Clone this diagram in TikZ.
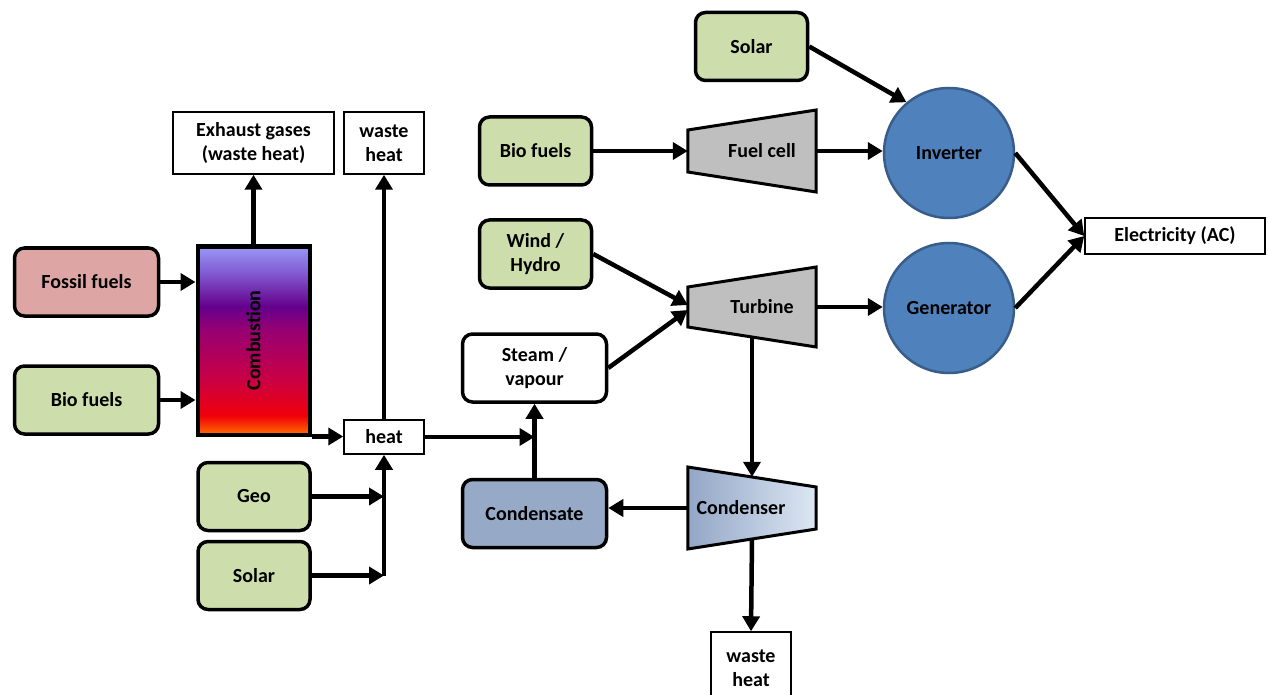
\documentclass[tikz,border=0pt]{standalone}
\usepackage{fontspec}
\setmainfont{Carlito}
\usetikzlibrary{arrows.meta}

\definecolor{renew}{RGB}{205,221,172}
\definecolor{fossil}{RGB}{221,166,164}
\definecolor{condensate}{RGB}{150,170,200}
\definecolor{coolA}{RGB}{146,166,198}
\definecolor{coolB}{RGB}{221,231,243}
\definecolor{unitgray}{RGB}{191,191,191}
\definecolor{circFill}{RGB}{79,129,189}
\definecolor{circEdge}{RGB}{56,93,138}
\definecolor{flOrange}{RGB}{255,110,0}
\definecolor{flRed}{RGB}{240,0,10}
\definecolor{flCrimson}{RGB}{200,0,70}
\definecolor{flMagenta}{RGB}{150,0,115}
\definecolor{flPurple}{RGB}{100,0,140}
\definecolor{flViolet}{RGB}{130,90,210}
\definecolor{flTop}{RGB}{152,152,245}

% burner colours, bottom to top
\pgfdeclareverticalshading{flame}{100bp}{color(0bp)=(flOrange); color(25bp)=(flOrange);
  color(30bp)=(flRed); color(40bp)=(flCrimson); color(53bp)=(flMagenta);
  color(59bp)=(flPurple); color(68bp)=(flViolet); color(75bp)=(flTop); color(100bp)=(flTop)}

\begin{document}
\begin{tikzpicture}[x=1pt,y=-1pt,font=\fontsize{20}{24}\selectfont\bfseries,
  src/.style={draw,line width=3.5pt,rounded corners=10pt,fill=renew,
    minimum width=112pt,minimum height=68pt,align=center},
  wide/.style={src,minimum width=144pt},
  tag/.style={draw,line width=1.5pt,fill=white,align=center,minimum height=62pt},
  dyn/.style={circle,draw=circEdge,line width=2.5pt,fill=circFill,minimum size=130pt},
  flow/.style={line width=4.5pt,-{Triangle[length=15pt,width=17pt]}}]
\useasboundingbox (0,0) rectangle (1269,695);

% combustion side
\node[src,wide,fill=fossil] (fossil) at (86.5,282) {Fossil fuels};
\node[src,wide] (bioL) at (86.5,400) {Bio fuels};
\node[draw,line width=4pt,shade,shading=flame,minimum width=112pt,minimum height=188pt] (comb) at (253.5,340.5) {};
\node[rotate=90] (combtxt) at (comb.center) {Combustion};
\node[tag,minimum width=161pt] (exh) at (253.5,143) {Exhaust gases\\(waste heat)};
\node[tag,minimum width=80pt] (wasteA) at (384,143) {waste\\heat};
\node[tag,minimum width=80pt,minimum height=34pt] (heat) at (384,437) {heat};
\node[src] (geo) at (254,496.5) {Geo};
\node[src] (solarA) at (254,575.5) {Solar};

% steam loop
\node[src] (bioT) at (535.5,151) {Bio fuels};
\node[src] (wind) at (535.5,254) {Wind /\\Hydro};
\node[src,wide,fill=white] (steam) at (534.5,368) {Steam /\\vapour};
\node[src,wide,fill=condensate] (conds) at (534.5,513.5) {Condensate};
\node[src] (solarB) at (751.5,46.5) {Solar};

\node[minimum width=128pt,minimum height=62pt] (fcell) at (752,151) {};
\draw[line width=3pt,fill=unitgray] ([yshift=21pt]fcell.west) -- ([yshift=41pt]fcell.east)
  -- ([yshift=-41pt]fcell.east) -- ([yshift=-21pt]fcell.west) -- cycle;
\node (fcelltxt) at ([xshift=10pt]fcell.center) {Fuel cell};

\node[minimum width=128pt,minimum height=60pt] (turb) at (752,307) {};
\draw[line width=3pt,fill=unitgray] ([yshift=20pt]turb.west) -- ([yshift=40pt]turb.east)
  -- ([yshift=-40pt]turb.east) -- ([yshift=-20pt]turb.west) -- cycle;
\node (turbtxt) at ([xshift=10pt]turb.center) {Turbine};

\node[minimum width=128pt,minimum height=62pt] (cond) at (752,508) {};
\draw[line width=3pt,left color=coolA,right color=coolB] ([yshift=41pt]cond.west) -- ([yshift=21pt]cond.east)
  -- ([yshift=-21pt]cond.east) -- ([yshift=-41pt]cond.west) -- cycle;
\node (condtxt) at ([xshift=-11pt]cond.center) {Condenser};

\node[tag,minimum width=80pt,minimum height=72pt] (wasteB) at (751,668) {waste\\heat};

% electrical side
\node[dyn] (inv) at (949,153) {Inverter};
\node[dyn] (gen) at (949,308) {Generator};
\node[tag,minimum width=180pt,minimum height=36pt] (elec) at (1175,236) {Electricity (AC)};

% flows
\draw[flow] (fossil.east) -- (fossil.east -| comb.west);
\draw[flow] (bioL.east) -- (bioL.east -| comb.west);
\draw[flow] (comb.north) -- (exh.south);
\draw[flow] (comb.south east) -- (comb.south east -| heat.west);
\draw[flow] (heat.north) -- (wasteA.south);
\draw[flow] (geo.east) -- (geo.east -| heat.south);
\draw[flow] (solarA.east) -- (solarA.east -| heat.south);
\draw[flow] (solarA.east -| heat.south) -- (heat.south);
\draw[flow] (heat.east) -- (heat.east -| steam.south);
\draw[flow] (conds.north) -- (steam.south);
\draw[flow] (wind.east) -- ([yshift=2pt]turb.west);
\draw[flow] (steam.east) -- ([yshift=-3pt]turb.west);
\draw[flow] (bioT.east) -- (fcell.west);
\draw[flow] (fcell.east) -- (fcell.east -| inv.west);
\draw[flow] (solarB.east) -- (inv.130);
\draw[flow] (turb.east) -- (turb.east -| gen.west);
\draw[flow] (turb.south) -- (cond.north);
\draw[flow] (cond.west) -- (cond.west -| conds.east);
\draw[flow] (cond.south) -- (wasteB.north);
\draw[flow] (inv.east) -- (elec.west);
\draw[flow] (gen.east) -- (elec.west);
\end{tikzpicture}
\end{document}
